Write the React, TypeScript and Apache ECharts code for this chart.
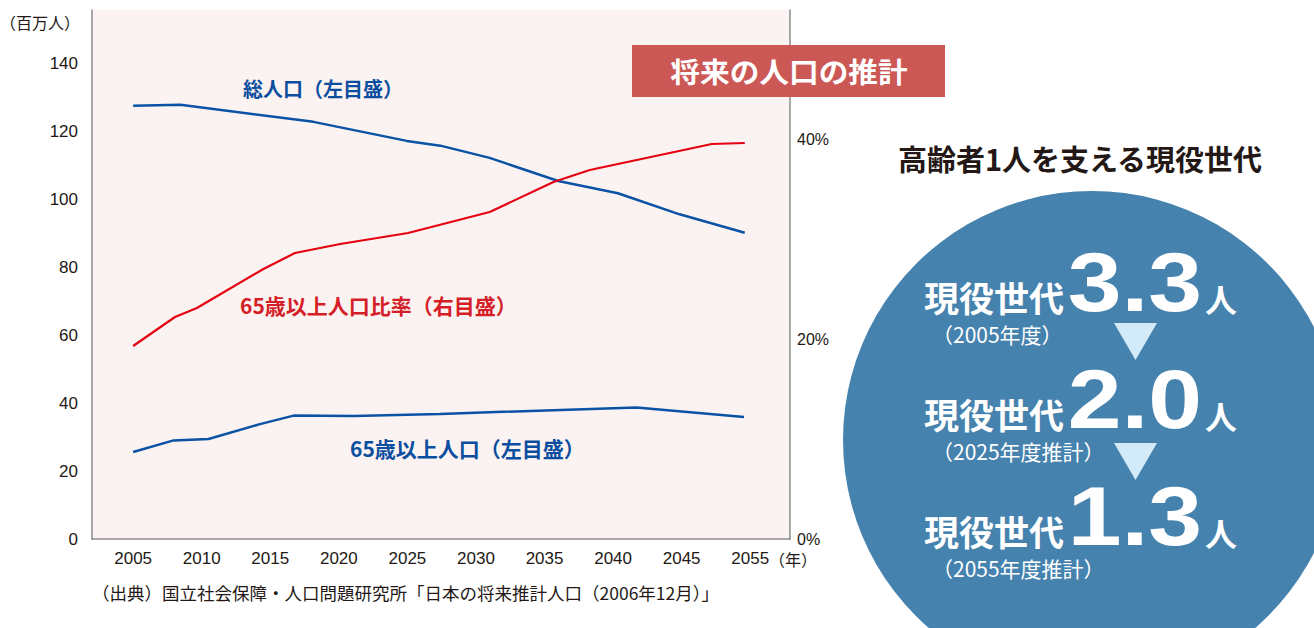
import React, { useEffect, useRef } from "react";
import * as echarts from "echarts";

// x positions are expressed in label slots (0 = 2005 … 9 = 2055)
const xLabels = ["2005", "2010", "2015", "2020", "2025", "2030", "2035", "2040", "2045", "2055"];
const xLabelSlots = [0, 1, 2, 3, 4, 5, 6, 7, 8, 9];
const leftTicks = [0, 20, 40, 60, 80, 100, 120, 140];
const rightTicks = [0, 20, 40];

// 総人口 (百万人, left axis)
const totalPopulation: [number, number][] = [
  [0, 127.4], [0.69, 127.7], [2.63, 122.7], [3.99, 117.1], [4.48, 115.7],
  [5.2, 112.1], [6.2, 105.3], [7.07, 101.7], [7.97, 95.5], [8.92, 90.1],
];
// 65歳以上人口 (百万人, left axis)
const elderlyPopulation: [number, number][] = [
  [0, 25.6], [0.59, 29.0], [1.1, 29.4], [1.85, 33.8], [2.34, 36.3],
  [3.21, 36.2], [4.48, 36.8], [7.34, 38.7], [8.91, 35.9],
];
// 65歳以上人口比率 (%, right axis)
const elderlyRatio: [number, number][] = [
  [0, 19.3], [0.61, 22.2], [0.93, 23.1], [1.9, 27.0], [2.36, 28.6], [3.02, 29.5],
  [4.01, 30.6], [5.2, 32.7], [6.13, 35.7], [6.66, 36.9], [8.44, 39.5], [8.92, 39.6],
];

const supportRows = [
  { label: "現役世代", value: "3.3", note: "（2005年度）" },
  { label: "現役世代", value: "2.0", note: "（2025年度推計）" },
  { label: "現役世代", value: "1.3", note: "（2055年度推計）" },
];

const JP = "'Noto Sans CJK JP', 'Noto Sans', sans-serif";
const LAT = "'Liberation Sans', Arial, sans-serif";
const INK = "#231815";
const BLUE = "#0A52A5";
const RED = "#E50012";

export default function App() {
  const ref = useRef<HTMLDivElement>(null);

  useEffect(() => {
    document.body.style.margin = "0";
    document.body.style.overflow = "hidden";
    if (!ref.current) return;
    const chart = echarts.init(ref.current, undefined, { renderer: "svg" });

    const rowY = [0, 117, 234];
    const circleTexts: any[] = [];
    supportRows.forEach((r, i) => {
      const dy = rowY[i];
      circleTexts.push(
        {
          type: "text", z: 110, x: 924, y: 296 + dy,
          style: { text: r.label, fill: "#fff", font: `bold 35px ${JP}`, textAlign: "left", textVerticalAlign: "middle" },
        },
        {
          type: "text", z: 110, x: 1202, y: 282 + dy, scaleX: 1.15,
          style: { text: r.value, fill: "#fff", font: `bold 84px ${LAT}`, textAlign: "right", textVerticalAlign: "middle" },
        },
        {
          type: "text", z: 110, x: 1205, y: 298 + dy,
          style: { text: "人", fill: "#fff", font: `bold 32px ${JP}`, textAlign: "left", textVerticalAlign: "middle" },
        },
        {
          type: "text", z: 110, x: 932, y: 334 + dy,
          style: { text: r.note, fill: "#fff", font: `21px ${JP}`, textAlign: "left", textVerticalAlign: "middle" },
        }
      );
    });

    const axisLineStyle = { color: "#8a8a8a", width: 1.5 };

    const option: any = {
      animation: false,
      grid: {
        left: 92, right: 524, top: 10, bottom: 89,
        show: true, backgroundColor: "#FBF3F1", borderWidth: 0,
      },
      xAxis: {
        type: "value", min: -0.6, max: 9.58,
        axisLine: { show: true, onZero: false, lineStyle: axisLineStyle },
        axisTick: { show: false },
        splitLine: { show: false },
        axisLabel: {
          customValues: xLabelSlots,
          formatter: (v: number) => xLabels[Math.round(v)] ?? "",
          color: INK, fontSize: 17, fontFamily: LAT, margin: 11,
        },
      },
      yAxis: [
        {
          type: "value", min: 0, max: 155.6, position: "left",
          axisLine: { show: true, onZero: false, lineStyle: axisLineStyle },
          axisTick: { show: false },
          splitLine: { show: false },
          axisLabel: { customValues: leftTicks, color: INK, fontSize: 17, fontFamily: LAT, margin: 14 },
        },
        {
          type: "value", min: 0, max: 52.9, position: "right",
          axisLine: { show: true, onZero: false, lineStyle: axisLineStyle },
          axisTick: { show: false },
          splitLine: { show: false },
          axisLabel: { customValues: rightTicks, formatter: "{value}%", color: INK, fontSize: 16, fontFamily: LAT, margin: 7 },
        },
      ],
      series: [
        {
          name: "総人口", type: "line", data: totalPopulation, yAxisIndex: 0,
          showSymbol: false, lineStyle: { color: BLUE, width: 2.5 }, itemStyle: { color: BLUE },
        },
        {
          name: "65歳以上人口", type: "line", data: elderlyPopulation, yAxisIndex: 0,
          showSymbol: false, lineStyle: { color: BLUE, width: 2.5 }, itemStyle: { color: BLUE },
        },
        {
          name: "65歳以上人口比率", type: "line", data: elderlyRatio, yAxisIndex: 1,
          showSymbol: false, lineStyle: { color: RED, width: 2.2 }, itemStyle: { color: RED },
        },
      ],
      graphic: [
        {
          type: "text", z: 100, x: 80, y: 22,
          style: { text: "（百万人）", fill: INK, font: `16px ${JP}`, textAlign: "right", textVerticalAlign: "middle" },
        },
        {
          type: "text", z: 100, x: 769, y: 559,
          style: { text: "（年）", fill: INK, font: `16px ${JP}`, textAlign: "left", textVerticalAlign: "middle" },
        },
        {
          type: "text", z: 100, x: 243, y: 88,
          style: { text: "総人口（左目盛）", fill: "#0B4EA0", font: `bold 20px ${JP}`, textAlign: "left", textVerticalAlign: "middle" },
        },
        {
          type: "text", z: 100, x: 240, y: 305,
          style: { text: "65歳以上人口比率（右目盛）", fill: "#D51E27", font: `bold 21px ${JP}`, textAlign: "left", textVerticalAlign: "middle" },
        },
        {
          type: "text", z: 100, x: 350, y: 448,
          style: { text: "65歳以上人口（左目盛）", fill: "#0B4EA0", font: `bold 21px ${JP}`, textAlign: "left", textVerticalAlign: "middle" },
        },
        {
          type: "text", z: 100, x: 92, y: 592,
          style: { text: "（出典）国立社会保障・人口問題研究所「日本の将来推計人口（2006年12月）」", fill: INK, font: `17.5px ${JP}`, textAlign: "left", textVerticalAlign: "middle" },
        },
        {
          type: "rect", z: 100, shape: { x: 632, y: 45, width: 313, height: 52 },
          style: { fill: "#CC5856" },
        },
        {
          type: "text", z: 101, x: 789, y: 71, scaleX: 1.06,
          style: { text: "将来の人口の推計", fill: "#fff", font: `bold 28px ${JP}`, textAlign: "center", textVerticalAlign: "middle" },
        },
        {
          type: "text", z: 100, x: 1080, y: 158,
          style: { text: "高齢者1人を支える現役世代", fill: INK, font: `bold 29px ${JP}`, textAlign: "center", textVerticalAlign: "middle" },
        },
        {
          type: "circle", z: 100, shape: { cx: 1092, cy: 440, r: 249 },
          style: { fill: "#4682AE" },
        },
        {
          type: "polygon", z: 105, shape: { points: [[1114, 323], [1157, 323], [1135.5, 360]] },
          style: { fill: "#D3EAF8" },
        },
        {
          type: "polygon", z: 105, shape: { points: [[1114, 443], [1157, 443], [1135.5, 480]] },
          style: { fill: "#D3EAF8" },
        },
        ...circleTexts,
      ],
    };

    chart.setOption(option);
    return () => chart.dispose();
  }, []);

  return <div ref={ref} style={{ position: "absolute", left: 0, top: 0, width: 1314, height: 628 }} />;
}
